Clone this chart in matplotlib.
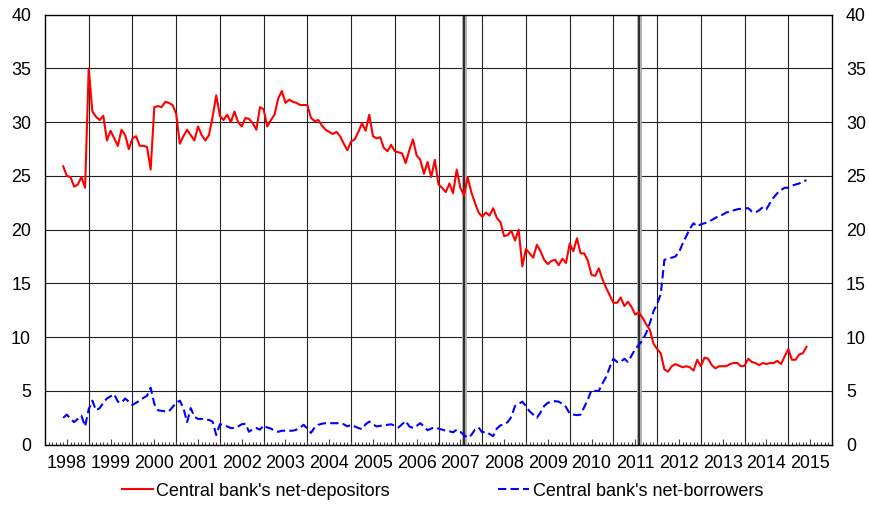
import matplotlib as mpl
mpl.use('Agg')
import matplotlib.pyplot as plt
import numpy as np

plt.rcParams['font.family'] = ['Liberation Sans', 'DejaVu Sans']

# monthly series, first value = June 1998, last value = June 2015
start_year = 1998
start_month = 6

# Central bank's net-depositors (red, solid)
depositors = [
    25.9, 25.0, 24.9, 24.0, 24.2, 24.9, 23.9,                                  # 1998 Jun-Dec
    35.0, 31.0, 30.5, 30.2, 30.6, 28.3, 29.2, 28.5, 27.8, 29.3, 28.8, 27.5,    # 1999
    28.5, 28.7, 27.8, 27.8, 27.7, 25.6, 31.4, 31.5, 31.4, 31.9, 31.8, 31.6,    # 2000
    30.8, 28.0, 28.7, 29.3, 28.8, 28.3, 29.6, 28.8, 28.3, 28.8, 30.5, 32.5,    # 2001
    30.6, 30.2, 30.7, 30.0, 31.0, 30.0, 29.6, 30.4, 30.3, 29.9, 29.3, 31.4,    # 2002
    31.2, 29.6, 30.2, 30.7, 32.2, 32.9, 31.8, 32.1, 31.9, 31.8, 31.6, 31.6,    # 2003
    31.6, 30.4, 30.1, 30.2, 29.7, 29.3, 29.1, 28.9, 29.1, 28.7, 28.0, 27.4,    # 2004
    28.2, 28.4, 29.1, 29.9, 29.2, 30.7, 28.7, 28.5, 28.6, 27.6, 27.3, 27.9,    # 2005
    27.3, 27.2, 27.1, 26.2, 27.4, 28.4, 26.9, 26.5, 25.2, 26.3, 24.9, 26.5,    # 2006
    24.2, 23.9, 23.5, 24.3, 23.4, 25.6, 23.9, 23.2, 24.9, 23.5, 22.5, 21.6,    # 2007
    21.2, 21.6, 21.3, 22.0, 21.1, 20.7, 19.4, 19.5, 19.9, 19.0, 20.0, 16.6,    # 2008
    18.2, 17.8, 17.4, 18.6, 18.0, 17.2, 16.8, 17.1, 17.2, 16.7, 17.3, 16.9,    # 2009
    18.7, 18.0, 19.2, 17.8, 17.8, 17.1, 15.8, 15.7, 16.4, 15.4, 14.6, 13.9,    # 2010
    13.2, 13.2, 13.7, 12.9, 13.3, 12.8, 12.1, 12.3, 11.8, 11.2, 10.7, 9.4,     # 2011
    8.9, 8.5, 7.0, 6.8, 7.3, 7.5, 7.35, 7.2, 7.3, 7.2, 6.9, 7.9,               # 2012
    7.3, 8.1, 8.0, 7.4, 7.1, 7.3, 7.3, 7.3, 7.5, 7.6, 7.6, 7.3,                # 2013
    7.35, 8.0, 7.7, 7.6, 7.4, 7.6, 7.5, 7.6, 7.6, 7.8, 7.5, 8.2,               # 2014
    8.9, 7.9, 7.9, 8.4, 8.5, 9.1,                                              # 2015 Jan-Jun
]

# Central bank's net-borrowers (blue, dashed)
borrowers = [
    2.5, 2.8, 2.4, 2.1, 2.4, 2.7, 1.7,                                         # 1998 Jun-Dec
    3.3, 4.1, 3.2, 3.4, 3.9, 4.3, 4.5, 4.7, 4.0, 3.9, 4.3, 4.0,                # 1999
    3.7, 3.9, 4.1, 4.35, 4.55, 5.3, 3.8, 3.2, 3.15, 3.1, 3.1, 3.5,             # 2000
    3.9, 4.1, 3.4, 2.1, 3.4, 2.6, 2.4, 2.4, 2.35, 2.3, 2.15, 0.9,              # 2001
    1.9, 1.85, 1.7, 1.55, 1.55, 1.7, 1.9, 1.95, 1.2, 1.45, 1.55, 1.4,          # 2002
    1.8, 1.6, 1.5, 1.3, 1.2, 1.3, 1.3, 1.3, 1.3, 1.4, 1.6, 1.85,               # 2003
    1.5, 1.1, 1.6, 1.85, 1.95, 2.0, 2.0, 2.0, 2.0, 2.0, 1.9, 1.7,              # 2004
    1.85, 1.7, 1.55, 1.45, 1.9, 2.15, 1.9, 1.7, 1.75, 1.8, 1.85, 1.9,          # 2005
    1.75, 1.6, 1.9, 2.2, 1.7, 1.55, 1.75, 2.0, 1.7, 1.35, 1.5, 1.6,            # 2006
    1.5, 1.4, 1.3, 1.25, 1.15, 1.4, 1.2, 0.9, 0.65, 0.9, 1.4, 1.6,             # 2007
    1.15, 1.2, 1.0, 0.8, 1.5, 1.8, 1.9, 2.1, 2.6, 3.6, 3.8, 4.0,               # 2008
    3.6, 3.1, 2.8, 2.5, 3.0, 3.6, 3.9, 4.0, 4.05, 4.0, 3.8, 3.5,               # 2009
    2.9, 2.8, 2.75, 2.8, 3.5, 4.2, 5.1, 5.0, 5.0, 5.7, 6.3, 7.2,               # 2010
    8.0, 7.7, 7.7, 8.0, 7.7, 8.3, 8.9, 9.3, 9.7, 10.4, 11.3, 12.4,             # 2011
    13.1, 14.0, 17.2, 17.3, 17.4, 17.5, 17.9, 18.7, 19.4, 20.1, 20.6, 20.3,    # 2012
    20.5, 20.6, 20.7, 20.9, 21.1, 21.3, 21.4, 21.6, 21.7, 21.8, 21.9, 21.95,   # 2013
    22.0, 22.0, 21.7, 21.6, 21.8, 22.1, 21.9, 22.5, 23.0, 23.4, 23.7, 23.9,    # 2014
    23.9, 24.1, 24.2, 24.3, 24.5, 24.6,                                        # 2015 Jan-Jun
]

years = list(range(1998, 2016))
events = [(2007, 8), (2011, 8)]   # thick vertical markers

labels = ["Central bank's net-depositors", "Central bank's net-borrowers"]

# time axis in fractional years
t = start_year + (start_month - 1 + np.arange(len(depositors))) / 12.0

fig = plt.figure(figsize=(8.69, 5.05), dpi=100)
ax = fig.add_axes([45 / 869, 60.3 / 505, 787 / 869, 430 / 505])

# grid
for y in years[1:]:
    ax.axvline(y, color='#222222', lw=0.8, zorder=1)
for v in range(5, 40, 5):
    ax.axhline(v, color='#222222', lw=0.8, zorder=1)
for (ey, em) in events:
    ax.axvline(ey + (em - 1) / 12.0, color='#b0b0b0', lw=3.5, zorder=1.5)
    ax.axvline(ey + (em - 1) / 12.0, color='#202020', lw=1.3, zorder=1.6)

l1, = ax.plot(t, depositors, color='#ff0000', lw=1.5, zorder=3)
l2, = ax.plot(t, borrowers, color='#0000ff', lw=1.5, dashes=(4, 2), zorder=3)

ax.set_xlim(1998, 2016)
ax.set_ylim(0, 40)

ax.set_xticks([y + 0.5 for y in years])
ax.set_xticklabels([str(y) for y in years])
ax.set_xticks(np.arange(1998, 2016 + 1e-6, 1 / 12.0), minor=True)
ax.tick_params(axis='x', which='major', direction='in', length=4, width=0.8,
               color='#444444', labelsize=12.9, pad=7.5)
ax.tick_params(axis='x', which='minor', direction='in', length=2.4, width=0.8,
               color='#444444')

ax.set_yticks(range(0, 41, 5))
ax.tick_params(axis='y', length=0, labelleft=True, labelright=True,
               labelsize=12.9, pad=10)

for s in ax.spines.values():
    s.set_color('black')
    s.set_linewidth(1.0)

fig.legend([l1, l2], labels, loc='center', bbox_to_anchor=(442.5 / 869, 1 - 491 / 505),
           ncol=2, frameon=False, fontsize=13, handlelength=1.7,
           handletextpad=0.2, columnspacing=6.0)

fig.savefig('out.png', dpi=100)
